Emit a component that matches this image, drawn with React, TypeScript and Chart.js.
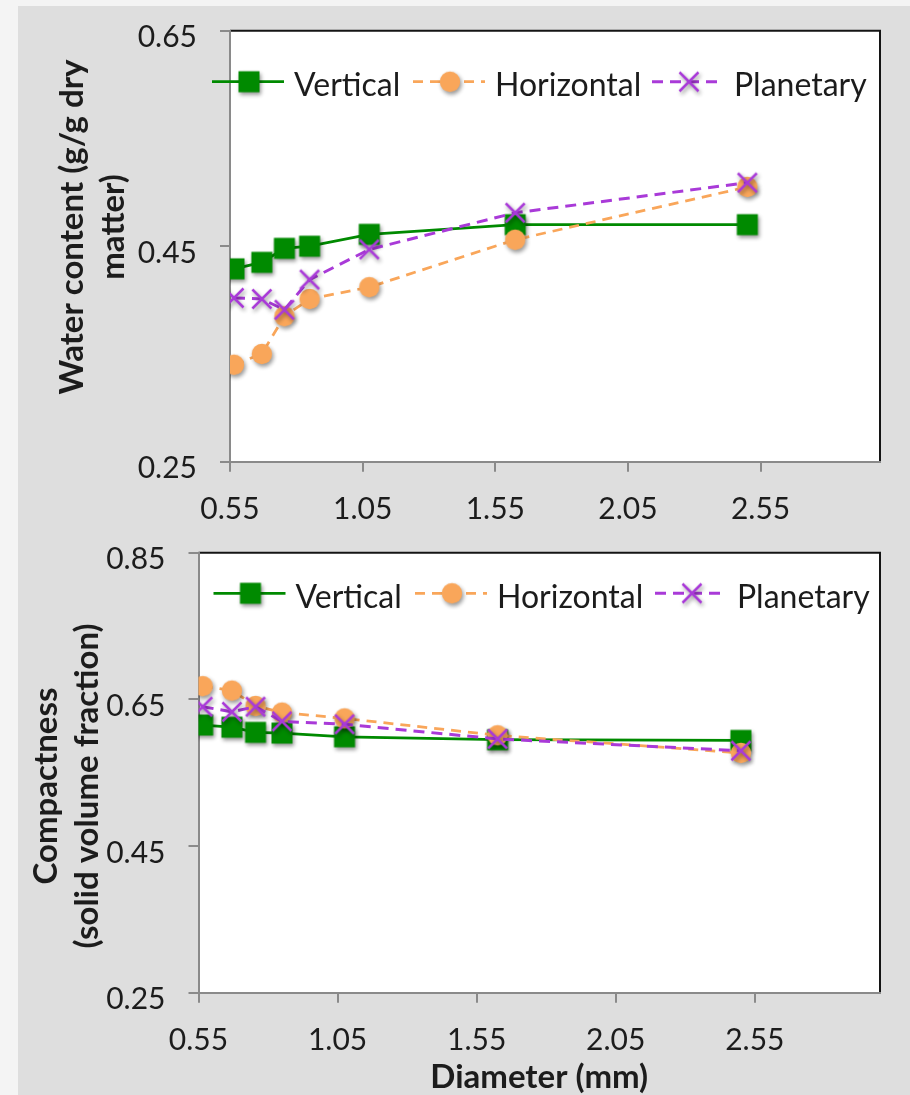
import React, { useEffect, useRef } from "react";
import { Chart, registerables } from "chart.js";

Chart.register(...registerables);

// ---------------- data ----------------
const diameters = [0.565, 0.67, 0.755, 0.85, 1.075, 1.625, 2.5];
const xTicks = [0.55, 1.05, 1.55, 2.05, 2.55];
const seriesNames = ["Vertical", "Horizontal", "Planetary"];

const waterVertical = [0.429, 0.435, 0.448, 0.45, 0.461, 0.47, 0.47];
const waterHorizontal = [0.34, 0.35, 0.385, 0.401, 0.412, 0.456, 0.505];
const waterPlanetary = [0.402, 0.401, 0.391, 0.419, 0.447, 0.481, 0.509];
const waterTicks = [0.25, 0.45, 0.65];

const compVertical = [0.615, 0.612, 0.605, 0.604, 0.599, 0.595, 0.594];
const compHorizontal = [0.668, 0.662, 0.641, 0.632, 0.624, 0.601, 0.577];
const compPlanetary = [0.64, 0.633, 0.64, 0.62, 0.616, 0.596, 0.58];
const compTicks = [0.25, 0.45, 0.65, 0.85];

const waterTitle = ["Water content (g/g dry", "matter)"];
const compTitle = ["Compactness", "(solid volume fraction)"];
const xTitle = "Diameter (mm)";

// ---------------- styles ----------------
const FONT = "Lato";
const TEXT = "#1c1c1c";
const AXIS_GRAY = "#8a8a8a";
const SERIES_STYLE = [
  { color: "#008a00", dash: [] as number[], width: 2.75, marker: "square" },
  { color: "#f9a65a", dash: [10, 7], width: 2.75, marker: "circle" },
  { color: "#a93ad8", dash: [11, 7], width: 3, marker: "cross" },
];

function makeMarker(kind: string, color: string): HTMLCanvasElement {
  const c = document.createElement("canvas");
  c.width = 40;
  c.height = 40;
  const ctx = c.getContext("2d")!;
  ctx.shadowColor = "rgba(0,0,0,0.42)";
  ctx.shadowBlur = 4;
  ctx.shadowOffsetX = 1.5;
  ctx.shadowOffsetY = 2.5;
  if (kind === "square") {
    ctx.fillStyle = color;
    ctx.fillRect(9.5, 9.5, 21, 21);
  } else if (kind === "circle") {
    ctx.fillStyle = color;
    ctx.beginPath();
    ctx.arc(20, 20, 10.2, 0, Math.PI * 2);
    ctx.fill();
  } else {
    ctx.strokeStyle = color;
    ctx.lineWidth = 2.5;
    ctx.beginPath();
    ctx.moveTo(10.5, 10.5);
    ctx.lineTo(29.5, 29.5);
    ctx.moveTo(29.5, 10.5);
    ctx.lineTo(10.5, 29.5);
    ctx.stroke();
  }
  return c;
}

type PanelCfg = {
  top: number;
  height: number;
  yMin: number;
  yMax: number;
  yTicks: number[];
  series: number[][];
  padTop: number;
  yAxisWidth: number;
  xAxisHeight: number;
  legendY: number;
  legendStarts: number[];
  title: string[];
  titleBaselines: number[];
  titleCenterY: number;
  xTitle: string | null;
  xTitleBaseline: number;
};

const PANEL_LEFT = 18;
const PANEL_WIDTH = 892;

const panels: PanelCfg[] = [
  {
    top: 6,
    height: 530,
    yMin: 0.25,
    yMax: 0.65,
    yTicks: waterTicks,
    series: [waterVertical, waterHorizontal, waterPlanetary],
    padTop: 24.7,
    yAxisWidth: 212,
    xAxisHeight: 74.3,
    legendY: 75.7,
    legendStarts: [194, 395, 634],
    title: waterTitle,
    titleBaselines: [65, 106],
    titleCenterY: 221,
    xTitle: null,
    xTitleBaseline: 0,
  },
  {
    top: 536,
    height: 559,
    yMin: 0.25,
    yMax: 0.85,
    yTicks: compTicks,
    series: [compVertical, compHorizontal, compPlanetary],
    padTop: 16.7,
    yAxisWidth: 180.5,
    xAxisHeight: 102.3,
    legendY: 57.3,
    legendStarts: [195.5, 397, 637],
    title: compTitle,
    titleBaselines: [39, 80],
    titleCenterY: 250,
    xTitle: xTitle,
    xTitleBaseline: 552,
  },
];

function buildConfig(cfg: PanelCfg, markers: HTMLCanvasElement[]): any {
  const datasets = cfg.series.map((vals, i) => {
    const st = SERIES_STYLE[i];
    return {
      label: seriesNames[i],
      data: diameters.map((d, k) => ({ x: d, y: vals[k] })),
      borderColor: st.color,
      backgroundColor: st.color,
      borderWidth: st.width,
      borderDash: st.dash,
      pointStyle: markers[i],
      pointRadius: 10,
      pointHoverRadius: 10,
      tension: 0,
      fill: false,
      order: 3 - i,
    };
  });

  const decor = {
    id: "decor",
    beforeDraw(chart: any) {
      const { ctx, chartArea: a } = chart;
      ctx.save();
      ctx.fillStyle = "#ffffff";
      ctx.fillRect(a.left, a.top, a.right - a.left, a.bottom - a.top);
      ctx.strokeStyle = "#141414";
      ctx.lineWidth = 2;
      ctx.beginPath();
      ctx.moveTo(a.left, a.top);
      ctx.lineTo(a.right, a.top);
      ctx.lineTo(a.right, a.bottom);
      ctx.stroke();
      ctx.restore();
    },
    afterDraw(chart: any) {
      const { ctx, chartArea: a } = chart;
      ctx.save();
      // legend
      ctx.font = `32px ${FONT}`;
      ctx.textAlign = "left";
      ctx.textBaseline = "alphabetic";
      cfg.legendStarts.forEach((sx, i) => {
        const st = SERIES_STYLE[i];
        ctx.save();
        ctx.strokeStyle = st.color;
        ctx.lineWidth = st.width;
        ctx.setLineDash(st.dash);
        ctx.beginPath();
        ctx.moveTo(sx, cfg.legendY);
        ctx.lineTo(sx + 72, cfg.legendY);
        ctx.stroke();
        ctx.restore();
        const m = markers[i];
        ctx.drawImage(m, sx + 37 - m.width / 2, cfg.legendY - m.height / 2);
        ctx.fillStyle = TEXT;
        ctx.fillText(seriesNames[i], sx + 82, cfg.legendY + 14.5);
      });
      // y title
      ctx.font = `bold 33px ${FONT}`;
      ctx.fillStyle = TEXT;
      ctx.textAlign = "center";
      ctx.textBaseline = "alphabetic";
      cfg.title.forEach((line, i) => {
        ctx.save();
        ctx.translate(cfg.titleBaselines[i], cfg.titleCenterY);
        ctx.rotate(-Math.PI / 2);
        ctx.fillText(line, 0, 0);
        ctx.restore();
      });
      if (cfg.xTitle) {
        ctx.fillText(cfg.xTitle, (a.left + a.right) / 2, cfg.xTitleBaseline);
      }
      ctx.restore();
    },
  };

  return {
    type: "line",
    data: { datasets },
    options: {
      animation: false,
      responsive: false,
      maintainAspectRatio: false,
      devicePixelRatio: 1,
      layout: {
        autoPadding: false,
        padding: { left: 0, top: cfg.padTop, right: 30, bottom: 0 },
      },
      plugins: {
        legend: { display: false },
        tooltip: { enabled: false },
        title: { display: false },
      },
      events: [],
      scales: {
        x: {
          type: "linear",
          min: 0.55,
          max: 3.0,
          afterBuildTicks: (s: any) => {
            s.ticks = xTicks.map((v) => ({ value: v }));
          },
          afterFit: (s: any) => {
            s.height = cfg.xAxisHeight;
            s.paddingLeft = 0;
            s.paddingRight = 0;
          },
          grid: {
            drawOnChartArea: false,
            drawTicks: true,
            tickLength: 10,
            tickWidth: 2,
            tickColor: AXIS_GRAY,
            color: AXIS_GRAY,
            lineWidth: 2,
          },
          border: { display: true, color: AXIS_GRAY, width: 2 },
          ticks: {
            font: { family: FONT, size: 30, lineHeight: 1 },
            color: TEXT,
            padding: 23,
            maxRotation: 0,
            autoSkip: false,
            callback: (v: any) => Number(v).toFixed(2),
          },
        },
        y: {
          type: "linear",
          min: cfg.yMin,
          max: cfg.yMax,
          afterBuildTicks: (s: any) => {
            s.ticks = cfg.yTicks.map((v) => ({ value: v }));
          },
          afterFit: (s: any) => {
            s.width = cfg.yAxisWidth;
            s.paddingTop = 0;
            s.paddingBottom = 0;
          },
          grid: {
            drawOnChartArea: false,
            drawTicks: true,
            tickLength: 10,
            tickWidth: 2,
            tickColor: AXIS_GRAY,
            color: AXIS_GRAY,
            lineWidth: 2,
          },
          border: { display: true, color: AXIS_GRAY, width: 2 },
          ticks: {
            font: { family: FONT, size: 30, lineHeight: 1 },
            color: TEXT,
            padding: 23,
            labelOffset: 7,
            autoSkip: false,
            callback: (v: any) => Number(v).toFixed(2),
          },
        },
      },
    },
    plugins: [decor],
  };
}

function ChartPanel({ cfg }: { cfg: PanelCfg }) {
  const ref = useRef<HTMLCanvasElement | null>(null);
  useEffect(() => {
    const markers = SERIES_STYLE.map((s) => makeMarker(s.marker, s.color));
    const chart = new Chart(ref.current!, buildConfig(cfg, markers));
    return () => chart.destroy();
  }, [cfg]);
  return (
    <canvas
      ref={ref}
      width={PANEL_WIDTH}
      height={cfg.height}
      style={{
        position: "absolute",
        left: 0,
        top: cfg.top - 6,
        width: PANEL_WIDTH,
        height: cfg.height,
      }}
    />
  );
}

export default function App() {
  useEffect(() => {
    document.body.style.margin = "0";
  }, []);
  return (
    <div
      style={{
        position: "absolute",
        left: 0,
        top: 0,
        width: 910,
        height: 1095,
        background: "#f4f4f4",
        overflow: "hidden",
      }}
    >
      <div
        style={{
          position: "absolute",
          left: PANEL_LEFT,
          top: 6,
          width: PANEL_WIDTH,
          height: 1089,
          background: "#dedede",
        }}
      >
        {panels.map((p, i) => (
          <ChartPanel key={i} cfg={p} />
        ))}
      </div>
    </div>
  );
}
